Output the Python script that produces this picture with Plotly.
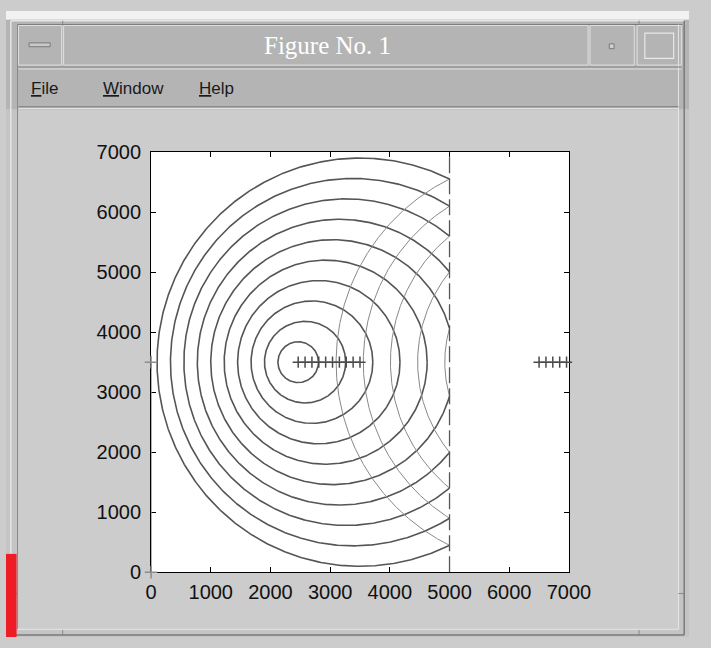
import numpy as np
import plotly.graph_objects as go

# ---------------- data ----------------
source_x = [3500, 3385, 3270, 3155, 3040, 2925, 2810, 2695, 2580, 2465]
source_y = [3500, 3500, 3500, 3500, 3500, 3500, 3500, 3500, 3500, 3500]
wave_radius = [3400, 3060, 2720, 2380, 2040, 1700, 1360, 1020, 680, 340]
image_x = [6500, 6615, 6730, 6845, 6960]
image_y = [3500, 3500, 3500, 3500, 3500]
image_radius = [3400, 3060, 2720, 2380, 2040]
wall_x = 5000
wall_y = [0, 7000]
ref_x = [0, 0]
ref_y = [0, 3500]
x_ticks = [0, 1000, 2000, 3000, 4000, 5000, 6000, 7000]
y_ticks = [0, 1000, 2000, 3000, 4000, 5000, 6000, 7000]

W, H = 711, 648


def PX(x):
    return x / W


def PY(y):
    return 1 - y / H


def arcs(cxs, cys, rs, wall):
    xs, ys = [], []
    for cx, cy, r in zip(cxs, cys, rs):
        c = (wall - cx) / r
        th0 = np.arccos(np.clip(c, -1, 1)) if c < 1 else 0.0
        th = np.linspace(th0, 2 * np.pi - th0, 500)
        xs += list(cx + r * np.cos(th)) + [None]
        ys += list(cy + r * np.sin(th)) + [None]
    return xs, ys


fig = go.Figure()

mx, my = arcs(source_x, source_y, wave_radius, wall_x)
fig.add_trace(go.Scatter(x=mx, y=my, mode="lines",
                         line=dict(color="#555555", width=1.6), hoverinfo="skip"))
rx, ry = arcs(image_x, image_y, image_radius, wall_x)
fig.add_trace(go.Scatter(x=rx, y=ry, mode="lines",
                         line=dict(color="#888888", width=1.0), hoverinfo="skip"))
fig.add_trace(go.Scatter(x=[wall_x, wall_x], y=wall_y, mode="lines",
                         line=dict(color="#555555", width=1.3, dash="16px,5px"),
                         hoverinfo="skip"))
fig.add_trace(go.Scatter(x=ref_x, y=ref_y, mode="lines+markers", cliponaxis=False,
                         line=dict(color="#8c8c8c", width=1.3),
                         marker=dict(symbol="cross-thin", size=9,
                                     line=dict(color="#8c8c8c", width=1.5)),
                         hoverinfo="skip"))
fig.add_trace(go.Scatter(x=source_x, y=source_y, mode="markers", cliponaxis=False,
                         marker=dict(symbol="cross-thin", size=8,
                                     line=dict(color="#4a4a4a", width=1.5)),
                         hoverinfo="skip"))
fig.add_trace(go.Scatter(x=image_x, y=image_y, mode="markers", cliponaxis=False,
                         marker=dict(symbol="cross-thin", size=8,
                                     line=dict(color="#4a4a4a", width=1.5)),
                         hoverinfo="skip"))


# ---------------- window chrome ----------------
def px_rect(x0, y0, x1, y1, fill=None, line=None, lw=1):
    d = dict(type="rect", xref="paper", yref="paper",
             x0=PX(x0), x1=PX(x1), y0=PY(y1), y1=PY(y0), layer="above")
    d["fillcolor"] = fill if fill else "rgba(0,0,0,0)"
    d["line"] = dict(color=line, width=lw) if line else dict(width=0)
    return d


def px_line(x0, y0, x1, y1, color, lw=1):
    return dict(type="line", xref="paper", yref="paper",
                x0=PX(x0), x1=PX(x1), y0=PY(y0), y1=PY(y1),
                line=dict(color=color, width=lw), layer="above")


shapes = []
shapes.append(px_rect(0, 0, 711, 9, fill="#f2f2f2"))
shapes.append(px_rect(0, 9, 711, 102, fill="#b4b4b4"))
shapes.append(px_rect(0, 102, 12, 648, fill="#c4c4c4"))
shapes.append(px_rect(701, 102, 711, 648, fill="#c4c4c4"))
shapes.append(px_rect(0, 641, 711, 648, fill="#c4c4c4"))
# outer frame lines
shapes.append(px_line(5, 10, 706, 10, "#e6e6e6", 1.5))
shapes.append(px_line(5, 10, 5, 646, "#e6e6e6", 1.5))
shapes.append(px_line(706, 10, 706, 646, "#7a7a7a", 1.5))
shapes.append(px_line(12, 14, 704, 14, "#7a7a7a", 1))
shapes.append(px_line(12, 14, 12, 640, "#8a8a8a", 1))
shapes.append(px_line(700, 14, 700, 640, "#e6e6e6", 1))
# corner notches of the frame
shapes.append(px_line(59, 10, 59, 14, "#8a8a8a", 1))
shapes.append(px_line(659, 10, 659, 14, "#8a8a8a", 1))
shapes.append(px_line(5, 603, 12, 603, "#8a8a8a", 1))
shapes.append(px_line(700, 603, 706, 603, "#8a8a8a", 1))
shapes.append(px_line(59, 640, 59, 646, "#8a8a8a", 1))
shapes.append(px_line(659, 640, 659, 646, "#8a8a8a", 1))
# title bar buttons
shapes.append(px_rect(13, 15, 58, 56, line="#e0e0e0", lw=1))
shapes.append(px_rect(24, 33, 46, 37, fill="#c8c8c8", line="#7a7a7a", lw=1))
shapes.append(px_rect(60, 15, 606, 56, line="#e0e0e0", lw=1))
shapes.append(px_rect(608, 15, 654, 56, line="#e0e0e0", lw=1))
shapes.append(px_rect(628, 34, 633, 39, fill="#d0d0d0", line="#7a7a7a", lw=1))
shapes.append(px_rect(657, 15, 703, 56, line="#e0e0e0", lw=1))
shapes.append(px_rect(665, 23, 695, 49, line="#e8e8e8", lw=1.2))
shapes.append(px_line(13, 58, 703, 58, "#8a8a8a", 1))
shapes.append(px_line(13, 60, 703, 60, "#e0e0e0", 1))
# menu bar bottom separator
shapes.append(px_line(13, 99, 700, 99, "#8a8a8a", 1.2))
shapes.append(px_line(13, 101, 700, 101, "#e6e6e6", 1))
# bottom frame
shapes.append(px_line(12, 640, 700, 640, "#e6e6e6", 1))
shapes.append(px_line(5, 646, 706, 646, "#7a7a7a", 1.5))
# red strip
shapes.append(px_rect(0, 562, 11, 648, fill="#ee1c25"))

annotations = [
    dict(text="Figure No. 1", x=PX(335), y=PY(36), xref="paper", yref="paper",
         showarrow=False, xanchor="center", yanchor="middle",
         font=dict(family="Liberation Serif", size=25, color="#ffffff")),
    dict(text="<u>F</u>ile", x=PX(24), y=PY(80), xref="paper", yref="paper",
         showarrow=False, xanchor="left", yanchor="middle",
         font=dict(family="Liberation Sans", size=17, color="#1a1a1a")),
    dict(text="<u>W</u>indow", x=PX(99), y=PY(80), xref="paper", yref="paper",
         showarrow=False, xanchor="left", yanchor="middle",
         font=dict(family="Liberation Sans", size=17, color="#1a1a1a")),
    dict(text="<u>H</u>elp", x=PX(199), y=PY(80), xref="paper", yref="paper",
         showarrow=False, xanchor="left", yanchor="middle",
         font=dict(family="Liberation Sans", size=17, color="#1a1a1a")),
]

axis_common = dict(range=[0, 7000], showgrid=False, zeroline=False,
                   showline=True, linecolor="#000000", linewidth=1,
                   ticks="inside", ticklen=5, tickwidth=1, tickcolor="#000000",
                   mirror="allticks", layer="below traces",
                   tickfont=dict(family="Liberation Sans", size=20, color="#111111"))

fig.update_layout(
    width=W, height=H, autosize=False,
    margin=dict(l=0, r=0, t=0, b=0),
    paper_bgcolor="#cccccc", plot_bgcolor="#ffffff",
    showlegend=False,
    xaxis=dict(domain=[PX(151), PX(586)], tickvals=x_ticks,
               ticktext=[str(v) for v in x_ticks], ticklabelstandoff=2,
               **axis_common),
    yaxis=dict(domain=[PY(581), PY(146)], tickvals=y_ticks,
               ticktext=[str(v) for v in y_ticks], ticklabelstandoff=5,
               **axis_common),
    shapes=shapes, annotations=annotations,
)

fig.write_html("out.html", config={"displayModeBar": False},
               post_script="document.body.style.margin='0';document.body.style.overflow='hidden';")
